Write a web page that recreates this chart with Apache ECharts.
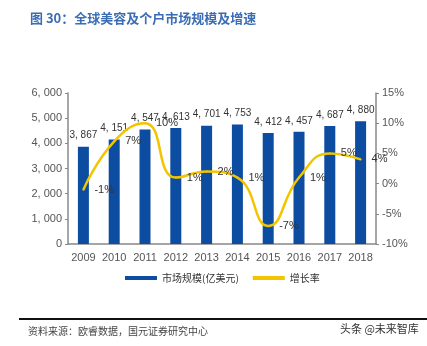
<!DOCTYPE html>
<html><head><meta charset="utf-8">
<script src="https://cdn.jsdelivr.net/npm/echarts@6/dist/echarts.min.js"></script>
<style>html,body{margin:0;padding:0;background:#fff}#c{width:427px;height:346px}</style>
</head><body><div id="c"></div>
<script>
const years = ['2009','2010','2011','2012','2013','2014','2015','2016','2017','2018'];
const marketSize = [3867, 4151, 4547, 4613, 4701, 4753, 4412, 4457, 4687, 4880];
const growthRate = [-1, 7, 10, 1, 2, 1, -7, 1, 5, 4];
const leftTicks = {min: 0, max: 6000, interval: 1000};
const rightTicks = {min: -10, max: 15, interval: 5};

function fmtNum(v){
  const s = String(v);
  return s.length > 3 ? s.slice(0, s.length-3) + ', ' + s.slice(-3) : s;
}
const FONT = '"Liberation Sans", "Noto Sans CJK SC", sans-serif';
const chart = echarts.init(document.getElementById('c'), null, {renderer:'canvas'});
chart.setOption({
  animation: false,
  textStyle: {fontFamily: FONT},
  grid: {left: 68, right: 51, top: 93, bottom: 102, containLabel: false},
  graphic: [
    {type:'text', left: 30, top: 12, style:{text:'图 30：全球美容及个户市场规模及增速', fill:'#3a6db4', font:'bold 13px "Noto Sans CJK SC", sans-serif', letterSpacing: 5}},
    {type:'rect', shape:{x:19, y:318, width:408, height:2}, style:{fill:'#111'}},
    {type:'text', left: 28, top: 326, style:{text:'资料来源：欧睿数据，国元证券研究中心', fill:'#444', font:'10px "Noto Sans CJK SC", sans-serif', letterSpacing: 1}},
    {type:'text', left: 340, top: 323, style:{text:'头条 @未来智库', fill:'#333', font:'11px "Noto Sans CJK SC", sans-serif'}}
  ],
  legend: {
    left: 120, top: 268, itemWidth: 32, itemHeight: 4, itemGap: 14,
    textStyle: {fontSize: 10, color:'#333', fontFamily:'"Noto Sans CJK SC", sans-serif'},
    data: [{name:'市场规模(亿美元)', icon:'rect'}, {name:'增长率', icon:'rect', itemStyle:{color:'#f2c500', opacity:1}}]
  },
  xAxis: {
    type:'category', data: years,
    axisLine:{lineStyle:{color:'#888', width:1.5}},
    axisTick:{show:false},
    axisLabel:{color:'#555', fontSize: 11, margin: 8, interval: 0}
  },
  yAxis: [
    {type:'value', min:leftTicks.min, max:leftTicks.max, interval:leftTicks.interval,
     axisLine:{show:true, lineStyle:{color:'#888', width:1.5}},
     axisTick:{show:true, length:3, lineStyle:{color:'#888'}},
     splitLine:{show:false},
     axisLabel:{color:'#555', fontSize: 11, margin: 6, formatter: v => fmtNum(v)}},
    {type:'value', min:rightTicks.min, max:rightTicks.max, interval:rightTicks.interval, position:'right',
     axisLine:{show:true, lineStyle:{color:'#888', width:1.5}},
     axisTick:{show:true, length:3, lineStyle:{color:'#888'}},
     splitLine:{show:false},
     axisLabel:{color:'#555', fontSize: 11, margin: 6, formatter: v => v + '%'}}
  ],
  series: [
    {name:'市场规模(亿美元)', type:'bar', data: marketSize, barWidth: 11,
     itemStyle:{color:'#0c4da2'},
     label:{show:true, position:'top', distance: 6, color:'#333', fontSize: 10, formatter: p => fmtNum(p.value)}},
    {name:'增长率', type:'line', yAxisIndex:1, data: growthRate, smooth: 0.5,
     symbol:'circle', symbolSize: 2, showSymbol: true,
     lineStyle:{color:'#f2c500', width:2.5}, itemStyle:{color:'#f2c500'},
     labelLayout: {hideOverlap: false},
     label:{show:true, position:'right', distance: 10, color:'#333', fontSize: 11, formatter: p => p.value + '%'}}
  ]
});
</script></body></html>
